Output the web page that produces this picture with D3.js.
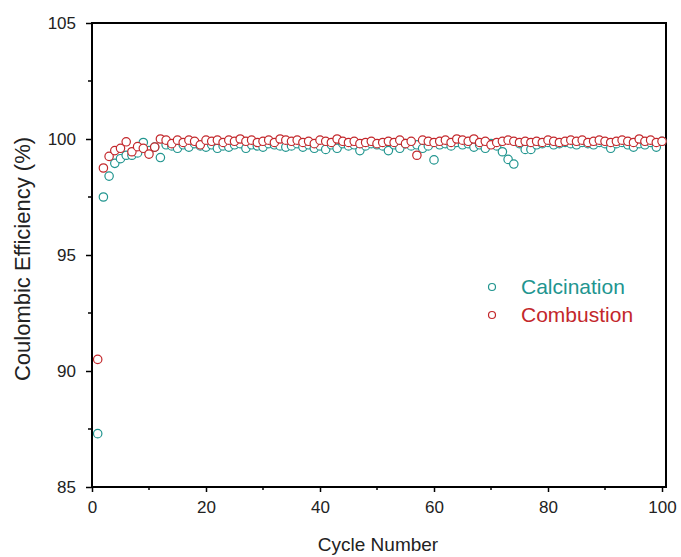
<html>
<meta charset="utf-8">
<head>
<script src="https://d3js.org/d3.v7.min.js"></script>
<style>
  body { margin: 0; background: #fff; }
  text { font-family: "Liberation Sans", Arial, sans-serif; }
</style>
</head>
<body>
<div id="chart"></div>
<script>
// coulombic efficiency per cycle (%), cycles 1..100
var calcination = [87.3, 97.5, 98.4, 98.95, 99.15, 99.3, 99.3, 99.4, 99.85, 99.5,
  99.65, 99.2, 99.75, 99.7, 99.6, 99.75, 99.65, 99.8, 99.7, 99.65,
  99.75, 99.6, 99.7, 99.65, 99.75, 99.8, 99.6, 99.75, 99.7, 99.65,
  99.8, 99.75, 99.7, 99.65, 99.7, 99.8, 99.65, 99.75, 99.6, 99.7,
  99.55, 99.75, 99.6, 99.8, 99.7, 99.75, 99.5, 99.7, 99.8, 99.75,
  99.7, 99.5, 99.75, 99.6, 99.8, 99.7, 99.75, 99.6, 99.7, 99.1,
  99.75, 99.8, 99.7, 99.85, 99.75, 99.8, 99.65, 99.75, 99.6, 99.8,
  99.7, 99.45, 99.12, 98.92, 99.8, 99.55, 99.55, 99.75, 99.8, 99.85,
  99.75, 99.8, 99.85, 99.8, 99.75, 99.85, 99.8, 99.75, 99.85, 99.8,
  99.6, 99.8, 99.85, 99.75, 99.65, 99.8, 99.75, 99.85, 99.65, 99.9];

var combustion = [90.5, 98.75, 99.25, 99.5, 99.6, 99.88, 99.45, 99.67, 99.6, 99.35,
  99.65, 100.0, 99.95, 99.8, 99.95, 99.85, 99.95, 99.9, 99.75, 99.95,
  99.9, 99.95, 99.85, 99.95, 99.9, 100.0, 99.9, 99.95, 99.85, 99.9,
  99.95, 99.85, 100.0, 99.95, 99.9, 99.95, 99.85, 99.9, 99.8, 99.95,
  99.9, 99.85, 100.0, 99.9, 99.85, 99.9, 99.8, 99.85, 99.9, 99.8,
  99.85, 99.9, 99.85, 99.95, 99.8, 99.9, 99.3, 99.95, 99.9, 99.85,
  99.9, 99.95, 99.85, 100.0, 99.95, 99.9, 100.0, 99.85, 99.9, 99.75,
  99.85, 99.9, 99.95, 99.9, 99.85, 99.9, 99.85, 99.9, 99.85, 99.95,
  99.9, 99.85, 99.9, 99.95, 99.9, 99.95, 99.85, 99.9, 99.95, 99.9,
  99.85, 99.9, 99.95, 99.9, 99.85, 100.0, 99.9, 99.95, 99.85, 99.9];

var seriesNames = ["Calcination", "Combustion"];
var colors = ["#21958f", "#c3272b"];
var xTicks = [0, 20, 40, 60, 80, 100];
var yTicks = [85, 90, 95, 100, 105];

var W = 681, H = 557;
var pLeft = 92, pRight = 666, pTop = 23, pBottom = 487;

var svg = d3.select("#chart").append("svg")
    .attr("width", W).attr("height", H);

var x = d3.scaleLinear().domain([0, 100.7]).range([pLeft, pRight]);
var y = d3.scaleLinear().domain([85, 105]).range([pBottom, pTop]);

// frame (top and right)
svg.append("path")
    .attr("d", "M" + pLeft + "," + pTop + "H" + pRight + "V" + pBottom)
    .attr("fill", "none").attr("stroke", "#000").attr("stroke-width", 2);

// x axis
var xAxis = svg.append("g").attr("transform", "translate(0," + pBottom + ")");
xAxis.call(d3.axisBottom(x).tickValues(xTicks).tickSize(5).tickPadding(9));
xAxis.append("g").selectAll("line")
    .data(d3.range(10, 101, 20)).enter().append("line")
    .attr("x1", function(d) { return x(d); }).attr("x2", function(d) { return x(d); })
    .attr("y1", 0).attr("y2", 3).attr("stroke", "#000").attr("stroke-width", 1.5);

// y axis
var yAxis = svg.append("g").attr("transform", "translate(" + pLeft + ",0)");
yAxis.call(d3.axisLeft(y).tickValues(yTicks).tickSize(6).tickPadding(10));
yAxis.append("g").selectAll("line")
    .data(d3.range(87.5, 105, 5)).enter().append("line")
    .attr("y1", function(d) { return y(d); }).attr("y2", function(d) { return y(d); })
    .attr("x1", 0).attr("x2", -4).attr("stroke", "#000").attr("stroke-width", 1.5);

xAxis.select(".domain").remove();
yAxis.select(".domain").remove();
svg.append("line").attr("x1", pLeft - 1).attr("x2", pRight + 1)
    .attr("y1", pBottom).attr("y2", pBottom).attr("stroke", "#000").attr("stroke-width", 2);
svg.append("line").attr("x1", pLeft).attr("x2", pLeft)
    .attr("y1", pTop - 1).attr("y2", pBottom + 1).attr("stroke", "#000").attr("stroke-width", 2);

svg.selectAll(".tick line").attr("stroke-width", 1.5);
svg.selectAll(".tick text").style("font-size", "17px").attr("fill", "#222");

// axis titles
svg.append("text")
    .attr("x", (pLeft + pRight) / 2 - 1).attr("y", 551)
    .attr("text-anchor", "middle").style("font-size", "19px").attr("fill", "#222")
    .text("Cycle Number");
svg.append("text")
    .attr("transform", "translate(30,259) rotate(-90)")
    .attr("text-anchor", "middle").style("font-size", "22px").attr("fill", "#222")
    .text("Coulombic Efficiency (%)");

// points
[calcination, combustion].forEach(function(vals, k) {
  svg.append("g").selectAll("circle")
    .data(vals).enter().append("circle")
      .attr("cx", function(d, i) { return x(i + 1); })
      .attr("cy", function(d) { return y(d); })
      .attr("r", 4.2)
      .attr("fill", "#fff")
      .attr("stroke", colors[k])
      .attr("stroke-width", 1.2);
});

// legend
var legend = svg.selectAll(".legend")
    .data(seriesNames).enter().append("g")
    .attr("class", "legend")
    .attr("transform", function(d, i) { return "translate(492," + (287 + i * 28) + ")"; });
legend.append("circle")
    .attr("r", 3.5).attr("fill", "#fff")
    .attr("stroke", function(d, i) { return colors[i]; }).attr("stroke-width", 1.2);
legend.append("text")
    .attr("x", 29).attr("dy", "0.35em")
    .style("font-size", "21px")
    .attr("fill", function(d, i) { return colors[i]; })
    .text(function(d) { return d; });
</script>
</body>
</html>
